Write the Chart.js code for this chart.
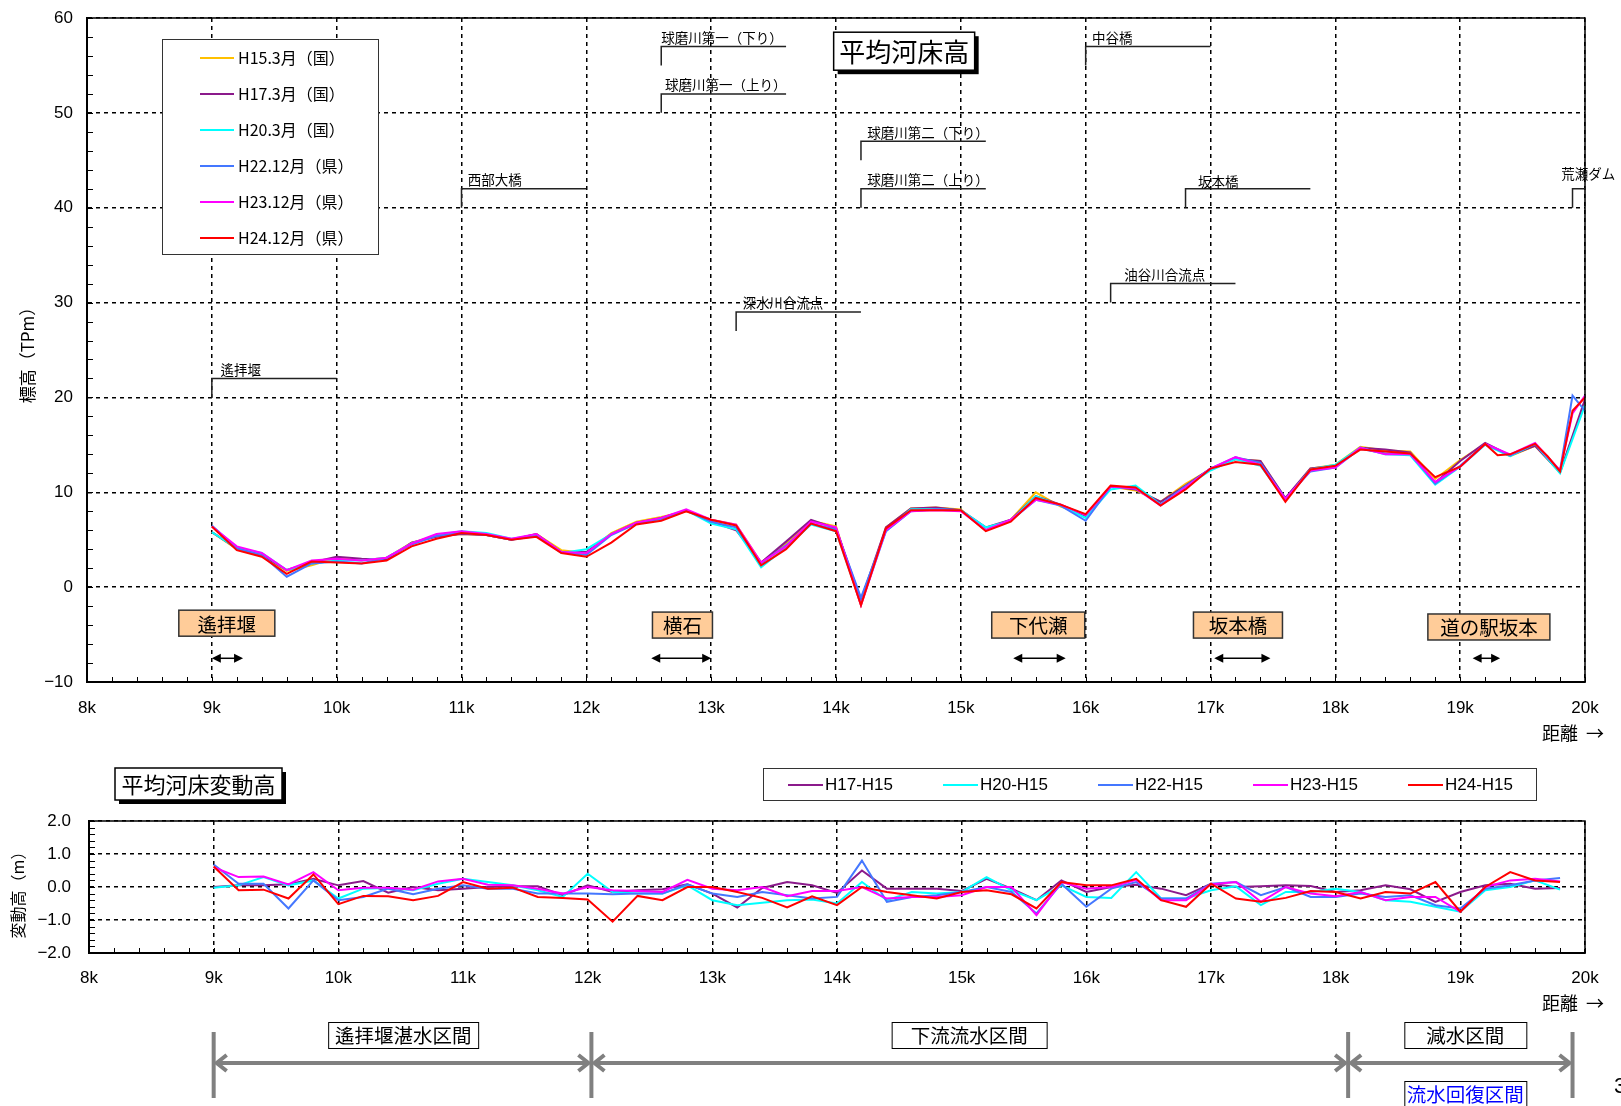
<!DOCTYPE html>
<html><head><meta charset="utf-8">
<script src="https://cdn.jsdelivr.net/npm/chart.js@4.4.1/dist/chart.umd.min.js"></script>
<style>
html,body{margin:0;padding:0;background:#fff;width:1621px;height:1106px;overflow:hidden}
.box{position:absolute;left:0;width:1621px}
</style></head><body>
<div class="box" style="top:0;height:760px"><canvas id="c1"></canvas></div>
<div class="box" style="top:740px;height:366px"><canvas id="c2"></canvas></div>
<script>
// ---------------- DATA ----------------
const distances = [9.0,9.2,9.4,9.6,9.8,10.0,10.2,10.4,10.6,10.8,11.0,11.2,11.4,11.6,11.8,12.0,12.2,12.4,12.6,12.8,13.0,13.2,13.4,13.6,13.8,14.0,14.2,14.4,14.6,14.8,15.0,15.2,15.4,15.6,15.8,16.0,16.2,16.4,16.6,16.8,17.0,17.2,17.4,17.6,17.8,18.0,18.2,18.4,18.6,18.8,19.0,19.2,19.4,19.6,19.8,19.9,20.0];

const seriesNames = ['H15.3月（国）','H17.3月（国）','H20.3月（国）','H22.12月（県）','H23.12月（県）','H24.12月（県）'];
const h15 = [5.8,4.0,3.3,1.7,2.3,3.1,2.8,3.1,4.7,5.4, 5.6,5.5,5.0,5.6,3.9,3.6,5.7,6.9,7.4,8.0, 7.1,6.6,2.6,4.6,7.0,6.4,-1.9,6.3,8.3,8.4, 8.2,6.0,7.1,10.0,8.5,7.6,10.6,10.2,9.0,10.9, 12.4,13.5,13.3,9.3,12.5,12.9,14.8,14.4,14.3,11.4, 13.4,15.1,13.8,14.9,12.1, null,19.5];
const h17 = [5.8,4.1,3.4,1.8,2.6,3.2,3.0,2.9,4.7,5.3, 5.6,5.5,5.0,5.6,3.7,3.7,5.6,6.8,7.3,8.1, 6.9,6.0,2.6,4.8,7.1,6.2,-1.4,6.3,8.3,8.4, 8.1,6.3,7.1,9.6,8.7,7.5,10.6,10.3,9.0,10.7, 12.5,13.5,13.3,9.4,12.5,12.8,14.7,14.5,14.2,11.0, 13.3,15.2,13.9,14.9,12.1, null,19.8];
const h20 = [5.8,4.1,3.6,1.8,2.5,2.8,2.8,3.1,4.6,5.5, 5.9,5.7,5.1,5.5,3.6,4.0,5.6,6.7,7.2,8.1, 6.7,6.1,2.1,4.2,6.6,5.9,-1.8,5.9,8.2,8.2, 8.1,6.3,7.0,9.6,8.6,7.3,10.3,10.7,8.7,10.6, 12.3,13.5,12.8,9.2,12.4,12.9,14.7,14.0,13.9,10.8, 12.7,15.0,13.8,15.1,12.0, null,19.2];
const h22 = [6.5,4.1,3.4,1.1,2.5,2.7,2.5,3.1,4.5,5.4, 5.7,5.5,5.0,5.4,3.7,3.4,5.5,6.7,7.2,8.1, 6.9,6.3,2.5,4.4,6.7,6.1,-1.1,5.9,8.0,8.2, 8.1,6.0,7.0,9.2,8.6,7.0,10.6,10.4,8.7,10.6, 12.5,13.7,13.1,9.3,12.2,12.6,14.6,14.1,14.1,10.9, 12.8,15.1,13.9,15.1,12.3, 20.2,18.6];
const h23 = [6.4,4.3,3.6,1.8,2.8,3.0,2.8,3.1,4.6,5.6, 5.9,5.6,5.1,5.6,3.7,3.6,5.6,6.8,7.3,8.2, 7.1,6.6,2.6,4.3,6.9,6.3,-1.9,6.0,8.0,8.1, 8.0,6.0,7.1,9.2,8.7,7.6,10.6,10.4,8.6,10.5, 12.5,13.7,12.9,9.3,12.3,12.6,14.7,14.0,14.0,11.1, 12.7,15.1,14.0,15.2,12.3, 18.3,20.2];
const h24 = [6.4,3.9,3.2,1.4,2.7,2.6,2.5,2.8,4.3,5.1, 5.7,5.5,5.0,5.3,3.6,3.2,4.7,6.6,7.0,8.0, 7.1,6.5,2.3,4.0,6.7,5.9,-1.9,6.2,8.1,8.1, 8.1,5.9,6.9,9.4,8.7,7.7,10.7,10.5,8.6,10.3, 12.5,13.2,12.9,9.0,12.4,12.8,14.5,14.3,14.1,11.6, 12.7,15.1,14.0,15.1,12.2, 18.6,20.0];
const h24ExtraX = [19.3, 19.7];
const h24ExtraY = [13.9, 13.8];

const diffNames = ['H17-H15','H20-H15','H22-H15','H23-H15','H24-H15'];
const d17 = [0.0,0.05,0.05,0.08,0.25,0.05,0.18,-0.17,0.0,-0.1, -0.05,0.0,0.02,0.02,-0.25,0.05,-0.15,-0.1,-0.07,0.08, -0.2,-0.62,-0.03,0.15,0.05,-0.18,0.5,-0.05,-0.05,-0.05, -0.12,0.25,-0.05,-0.4,0.2,-0.15,0.0,0.07,-0.05,-0.25, 0.1,0.0,0.02,0.05,0.03,-0.15,-0.1,0.05,-0.07,-0.45, -0.15,0.05,0.1,-0.05,-0.03];
const d20 = [-0.02,0.05,0.3,0.05,0.2,-0.35,-0.05,-0.03,-0.1,0.1, 0.25,0.15,0.05,-0.1,-0.3,0.4,-0.15,-0.2,-0.2,0.05, -0.4,-0.55,-0.48,-0.4,-0.38,-0.5,0.15,-0.4,-0.15,-0.2, -0.15,0.3,-0.1,-0.4,0.05,-0.3,-0.33,0.45,-0.35,-0.35, -0.1,0.02,-0.55,-0.15,-0.15,-0.05,-0.15,-0.4,-0.45,-0.6, -0.75,-0.1,0.0,0.2,-0.08];
const d22 = [0.68,0.1,0.1,-0.65,0.2,-0.4,-0.3,-0.05,-0.22,-0.05, 0.05,-0.05,-0.05,-0.2,-0.2,-0.2,-0.22,-0.2,-0.2,0.08, -0.2,-0.3,-0.15,-0.25,-0.35,-0.3,0.8,-0.45,-0.3,-0.25, -0.15,0.0,-0.15,-0.8,0.1,-0.6,-0.05,0.15,-0.35,-0.35, 0.1,0.15,-0.25,0.0,-0.3,-0.3,-0.2,-0.3,-0.25,-0.55, -0.65,-0.05,0.05,0.2,0.27];
const d23 = [0.6,0.3,0.32,0.08,0.45,-0.1,-0.02,-0.02,-0.08,0.17, 0.25,0.07,0.05,-0.05,-0.2,0.0,-0.1,-0.12,-0.15,0.22, -0.05,-0.1,0.0,-0.28,-0.12,-0.12,0.0,-0.35,-0.3,-0.3, -0.25,0.0,0.0,-0.85,0.15,-0.05,0.0,0.22,-0.4,-0.4, 0.08,0.15,-0.45,0.0,-0.2,-0.28,-0.15,-0.4,-0.3,-0.3, -0.75,0.0,0.2,0.25,0.17];
const d24 = [0.62,-0.1,-0.08,-0.35,0.38,-0.52,-0.27,-0.28,-0.4,-0.27, 0.15,-0.05,-0.02,-0.3,-0.33,-0.38,-1.05,-0.27,-0.4,0.0, 0.0,-0.15,-0.33,-0.62,-0.28,-0.55,0.0,-0.15,-0.25,-0.35, -0.15,-0.1,-0.22,-0.65,0.15,0.05,0.05,0.25,-0.4,-0.6, 0.1,-0.35,-0.45,-0.33,-0.12,-0.15,-0.35,-0.15,-0.2,0.15, -0.75,0.0,0.45,0.2,0.15];

// annotations (text + anchor values)
const bridgeNames = ['遙拝堰','西部大橋','球磨川第一（下り）','球磨川第一（上り）','深水川合流点','球磨川第二（下り）','球磨川第二（上り）','中谷橋','油谷川合流点','坂本橋','荒瀬ダム'];
const bridgeX     = [9.0, 11.0, 12.6, 12.6, 13.2, 14.2, 14.2, 16.0, 16.2, 16.8, 19.9];
const bridgeEndX  = [10.0,12.0, 13.6, 13.6, 14.2, 15.2, 15.2, 17.0, 17.2, 17.8, 20.0];
const bridgeLow   = [20, 40, 55, 50, 27, 45, 40, 55, 30, 40, 40];
const bridgeHigh  = [22, 42, 57, 52, 29, 47, 42, 57, 32, 42, 42];
const bridgeTextX = [9.07, 11.05, 12.6, 12.63, 13.25, 14.25, 14.25, 16.05, 16.31, 16.9, 19.81];
const bridgeTextY = [22, 42, 57, 52, 29, 47, 42, 57, 32, 41.8, 42.6];

const placeNames = ['遙拝堰','横石','下代瀬','坂本橋','道の駅坂本'];
const placeX     = [9.12, 12.77, 15.62, 17.22, 19.23];
const placeY     = [-3.8, -4.0, -4.0, -4.0, -4.2];
const rangeFrom  = [9.0, 12.52, 15.42, 17.03, 19.1];
const rangeTo    = [9.25, 13.0, 15.84, 17.48, 19.32];
const rangeY     = -7.5;

const sectionBounds = [9.0, 12.03, 18.1, 19.9];
const sectionNames  = ['遙拝堰湛水区間','下流流水区間','減水区間'];
const sectionLabelX = [10.52, 15.06, 19.04];
const sectionSubName = '流水回復区間';

const topTitle = '平均河床高';
const bottomTitle = '平均河床変動高';

// ---------------- STYLE ----------------
const FONT = '"Liberation Sans", "Noto Sans CJK JP", sans-serif';
const JFONT = '"Noto Sans CJK JP", sans-serif';
const topColors = ['#FFC000','#8B1A8B','#00FFFF','#4477FF','#FF00FF','#FF0000'];
const diffColors = ['#8B1A8B','#00FFFF','#4477FF','#FF00FF','#FF0000'];
const placeWidths = [96, 60, 93, 89, 122];
const sectionWidths = [150, 155, 122];

function pts(xs, ys){ const o=[]; for(let i=0;i<ys.length;i++){ if(ys[i]!==null) o.push({x:xs[i], y:ys[i]}); } return o; }
function withExtra(base, ex, ey){ const o=base.concat(pts(ex,ey)); o.sort((a,b)=>a.x-b.x); return o; }
const minus = v => String(v).replace('-', '−');

const topSeries = [h15,h17,h20,h22,h23,h24];
const topDatasets = topSeries.map((s,i)=>({
  label: seriesNames[i],
  data: i===5 ? withExtra(pts(distances,s), h24ExtraX, h24ExtraY) : pts(distances,s),
  borderColor: topColors[i], backgroundColor: topColors[i],
  borderWidth: 2, pointRadius: 0, tension: 0, fill:false, order: 5-i
}));
const diffSeries = [d17,d20,d22,d23,d24];
const diffDatasets = diffSeries.map((s,i)=>({
  label: diffNames[i], data: pts(distances,s),
  borderColor: diffColors[i], backgroundColor: diffColors[i],
  borderWidth: 2, pointRadius: 0, tension: 0, fill:false, order: 4-i
}));

function arrowHead(ctx, x, y, dir, len, half){
  ctx.beginPath(); ctx.moveTo(x,y); ctx.lineTo(x-dir*len, y-half); ctx.lineTo(x-dir*len, y+half); ctx.closePath(); ctx.fill();
}
function shadowBox(ctx, x, y, w, h, text, font){
  ctx.fillStyle='#000'; ctx.fillRect(x+4, y+4, w, h);
  ctx.fillStyle='#fff'; ctx.fillRect(x, y, w, h);
  ctx.strokeStyle='#000'; ctx.lineWidth=1.5; ctx.strokeRect(x, y, w, h);
  ctx.fillStyle='#000'; ctx.font=font; ctx.textAlign='center'; ctx.textBaseline='middle';
  ctx.fillText(text, x+w/2, y+h/2+1);
}
function minorTicks(ctx, a, xs, ys, xStep, yMin, yMax, yStep){
  ctx.strokeStyle='#000'; ctx.lineWidth=1; ctx.setLineDash([]);
  ctx.beginPath();
  for(let k=0;k<=Math.round((xs.max-xs.min)/xStep);k++){ const x=Math.round(xs.getPixelForValue(xs.min+k*xStep))+0.5; ctx.moveTo(x,a.bottom); ctx.lineTo(x,a.bottom-5); }
  for(let k=0;k<=Math.round((yMax-yMin)/yStep);k++){ const y=Math.round(ys.getPixelForValue(yMin+k*yStep))+0.5; ctx.moveTo(a.left,y); ctx.lineTo(a.left+6,y); }
  ctx.stroke();
}

const topDecor = {
  id:'topDecor',
  afterDraw(chart){
    const ctx=chart.ctx, xs=chart.scales.x, ys=chart.scales.y, a=chart.chartArea;
    ctx.save();
    ctx.setLineDash([]);
    ctx.strokeStyle='#000'; ctx.lineWidth=1.5;
    ctx.strokeRect(a.left, a.top, a.right-a.left, a.bottom-a.top);
    minorTicks(ctx, a, xs, ys, 0.2, -10, 60, 2);
    // bridges
    ctx.font='13.5px '+JFONT; ctx.textAlign='left'; ctx.textBaseline='bottom';
    for(let i=0;i<bridgeNames.length;i++){
      const x0=xs.getPixelForValue(bridgeX[i]), x1=xs.getPixelForValue(bridgeEndX[i]);
      const yl=ys.getPixelForValue(bridgeLow[i]), yh=ys.getPixelForValue(bridgeHigh[i]);
      ctx.strokeStyle='#222'; ctx.lineWidth=1.5;
      ctx.beginPath(); ctx.moveTo(x0,yl); ctx.lineTo(x0,yh); ctx.lineTo(x1,yh); ctx.stroke();
      ctx.fillStyle='#000';
      ctx.fillText(bridgeNames[i], xs.getPixelForValue(bridgeTextX[i]), ys.getPixelForValue(bridgeTextY[i])-2);
    }
    // place boxes
    for(let i=0;i<placeNames.length;i++){
      const cx=xs.getPixelForValue(placeX[i]), cy=ys.getPixelForValue(placeY[i]);
      const w=placeWidths[i], h=26;
      ctx.fillStyle='#FFCC99'; ctx.fillRect(cx-w/2, cy-h/2, w, h);
      ctx.strokeStyle='#333'; ctx.lineWidth=1.5; ctx.strokeRect(cx-w/2, cy-h/2, w, h);
      ctx.fillStyle='#000'; ctx.font='19.5px '+JFONT; ctx.textAlign='center'; ctx.textBaseline='middle';
      ctx.fillText(placeNames[i], cx, cy+1);
      const ax0=xs.getPixelForValue(rangeFrom[i]), ax1=xs.getPixelForValue(rangeTo[i]), ay=ys.getPixelForValue(rangeY);
      ctx.strokeStyle='#000'; ctx.lineWidth=1.5;
      ctx.beginPath(); ctx.moveTo(ax0+6,ay); ctx.lineTo(ax1-6,ay); ctx.stroke();
      arrowHead(ctx, ax0, ay, -1, 9, 4.5); arrowHead(ctx, ax1, ay, 1, 9, 4.5);
    }
    // title
    const tx=xs.getPixelForValue(14.55), ty=ys.getPixelForValue(56.5);
    shadowBox(ctx, tx-71, ty-19, 141, 38, topTitle, '26px '+JFONT);
    // legend
    const lx=a.left+75, ly=a.top+21;
    ctx.fillStyle='#fff'; ctx.fillRect(lx, ly, 216, 215);
    ctx.strokeStyle='#333'; ctx.lineWidth=1; ctx.strokeRect(lx+0.5, ly+0.5, 216, 215);
    ctx.font='16px '+JFONT; ctx.textAlign='left'; ctx.textBaseline='middle';
    for(let i=0;i<seriesNames.length;i++){
      const y=ly+19+i*36;
      ctx.strokeStyle=topColors[i]; ctx.lineWidth=2;
      ctx.beginPath(); ctx.moveTo(lx+38,y); ctx.lineTo(lx+72,y); ctx.stroke();
      ctx.fillStyle='#000'; ctx.fillText(seriesNames[i], lx+76, y);
    }
    // axis titles
    ctx.save(); ctx.translate(28, 351); ctx.rotate(-Math.PI/2);
    ctx.font='17px '+JFONT; ctx.textAlign='center'; ctx.textBaseline='middle'; ctx.fillStyle='#000';
    ctx.fillText('標高（TPm）', 0, 0); ctx.restore();
    ctx.font='18px '+JFONT; ctx.textAlign='right'; ctx.textBaseline='middle'; ctx.fillStyle='#000';
    ctx.fillText('距離  →', 1604, a.bottom+51);
    ctx.restore();
  }
};

const botDecor = {
  id:'botDecor',
  afterDraw(chart){
    const ctx=chart.ctx, xs=chart.scales.x, ys=chart.scales.y, a=chart.chartArea;
    ctx.save(); ctx.setLineDash([]);
    ctx.strokeStyle='#000'; ctx.lineWidth=1.5;
    ctx.strokeRect(a.left, a.top, a.right-a.left, a.bottom-a.top);
    minorTicks(ctx, a, xs, ys, 0.2, -2, 2, 0.2);
    // title
    shadowBox(ctx, 115, 28, 167, 32, bottomTitle, '22px '+JFONT);
    // legend
    const lx=763, ly=28;
    ctx.fillStyle='#fff'; ctx.fillRect(lx, ly, 773, 32);
    ctx.strokeStyle='#333'; ctx.lineWidth=1; ctx.strokeRect(lx+0.5, ly+0.5, 773, 32);
    ctx.font='17px '+FONT; ctx.textAlign='left'; ctx.textBaseline='middle';
    for(let i=0;i<diffNames.length;i++){
      const x=lx+25+i*155, y=ly+17;
      ctx.strokeStyle=diffColors[i]; ctx.lineWidth=2;
      ctx.beginPath(); ctx.moveTo(x,y); ctx.lineTo(x+35,y); ctx.stroke();
      ctx.fillStyle='#000'; ctx.fillText(diffNames[i], x+37, y);
    }
    // axis titles
    ctx.save(); ctx.translate(18, 146); ctx.rotate(-Math.PI/2);
    ctx.font='16px '+JFONT; ctx.textAlign='center'; ctx.textBaseline='middle'; ctx.fillStyle='#000';
    ctx.fillText('変動高（m）', -5, 0); ctx.restore();
    ctx.font='18px '+JFONT; ctx.textAlign='right'; ctx.textBaseline='middle'; ctx.fillStyle='#000';
    ctx.fillText('距離  →', 1604, a.bottom+50);
    // sections
    const barTop=a.bottom+79, barBot=a.bottom+145, arY=a.bottom+110;
    ctx.strokeStyle='#808080'; ctx.lineWidth=4; ctx.lineCap='butt';
    const bx = sectionBounds.map(v=>xs.getPixelForValue(v));
    bx.forEach(x=>{ ctx.beginPath(); ctx.moveTo(x,barTop); ctx.lineTo(x,barBot); ctx.stroke(); });
    for(let i=0;i<bx.length-1;i++){
      const x0=bx[i]+3, x1=bx[i+1]-3;
      ctx.beginPath(); ctx.moveTo(x0,arY); ctx.lineTo(x1,arY); ctx.stroke();
      ctx.beginPath(); ctx.moveTo(x0+10,arY-8); ctx.lineTo(x0,arY); ctx.lineTo(x0+10,arY+8); ctx.stroke();
      ctx.beginPath(); ctx.moveTo(x1-10,arY-8); ctx.lineTo(x1,arY); ctx.lineTo(x1-10,arY+8); ctx.stroke();
    }
    ctx.font='19.5px '+JFONT; ctx.textAlign='center'; ctx.textBaseline='middle';
    for(let i=0;i<sectionNames.length;i++){
      const cx=xs.getPixelForValue(sectionLabelX[i]), w=sectionWidths[i], y=a.bottom+69;
      ctx.fillStyle='#fff'; ctx.fillRect(cx-w/2, y, w, 26);
      ctx.strokeStyle='#000'; ctx.lineWidth=1; ctx.strokeRect(cx-w/2+0.5, y+0.5, w, 26);
      ctx.fillStyle='#000'; ctx.fillText(sectionNames[i], cx, y+14);
    }
    const cx=xs.getPixelForValue(sectionLabelX[2]), w=sectionWidths[2], y=a.bottom+128;
    ctx.fillStyle='#fff'; ctx.fillRect(cx-w/2, y, w, 26);
    ctx.strokeStyle='#000'; ctx.lineWidth=1; ctx.strokeRect(cx-w/2+0.5, y+0.5, w, 26);
    ctx.fillStyle='#0000FF'; ctx.fillText(sectionSubName, cx, y+14);
    ctx.fillStyle='#000'; ctx.font='22px '+FONT; ctx.textAlign='left';
    ctx.fillText('3', 1614, a.bottom+134);
    ctx.restore();
  }
};

function axisOpts(min, max, step, fixedSize, pad, cb, isX){
  return {
    type:'linear', min, max,
    afterFit(s){
      if(isX){ s.height=fixedSize; s.paddingLeft=0; s.paddingRight=0; }
      else { s.width=fixedSize; s.paddingTop=0; s.paddingBottom=0; }
    },
    ticks:{ stepSize:step, padding:pad, color:'#000', font:{family:FONT,size:17}, callback:cb, autoSkip:false, maxRotation:0, includeBounds:true },
    grid:{ color:'#000', lineWidth:1.5, drawTicks:false },
    border:{ display:true, color:'#000', width:2, dash:[4,4] }
  };
}

new Chart(document.getElementById('c1'), {
  type:'line',
  data:{ datasets: topDatasets },
  options:{
    responsive:true, maintainAspectRatio:false, animation:false,
    layout:{ padding:{ top:18, right:36, left:0, bottom:0 } },
    plugins:{ legend:{display:false}, tooltip:{enabled:false}, title:{display:false} },
    scales:{
      x: axisOpts(8, 20, 1, 78, 16, v=>v+'k', true),
      y: axisOpts(-10, 60, 10, 87, 14, v=>minus(v), false)
    }
  },
  plugins:[topDecor]
});

new Chart(document.getElementById('c2'), {
  type:'line',
  data:{ datasets: diffDatasets },
  options:{
    responsive:true, maintainAspectRatio:false, animation:false,
    layout:{ padding:{ top:81, right:36, left:0, bottom:0 } },
    plugins:{ legend:{display:false}, tooltip:{enabled:false} },
    scales:{
      x: axisOpts(8, 20, 1, 153, 15, v=>v+'k', true),
      y: axisOpts(-2, 2, 1, 89, 18, v=>minus(Number(v).toFixed(1)), false)
    }
  },
  plugins:[botDecor]
});
</script>
</body></html>
